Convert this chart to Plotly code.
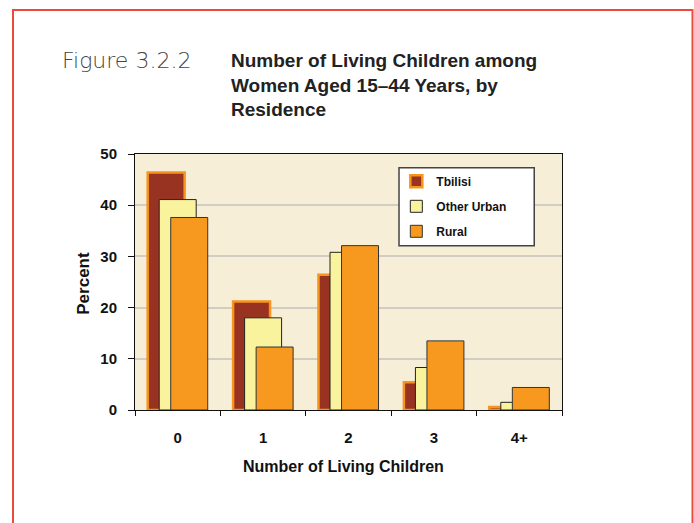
import plotly.graph_objects as go

categories = ["0", "1", "2", "3", "4+"]
series_names = ["Tbilisi", "Other Urban", "Rural"]
tbilisi = [46.4, 21.2, 26.4, 5.4, 0.6]
other_urban = [41.1, 18.0, 30.8, 8.3, 1.5]
rural = [37.6, 12.3, 32.1, 13.5, 4.4]
y_ticks = [0, 10, 20, 30, 40, 50]

fills = ["#983321", "#FAF39E", "#F7991F"]
lines = ["#F7941D", "#222222", "#333333"]
line_w = [2.5, 1, 1]
bar_w = 0.433
offsets = [-0.3515, -0.2165, -0.0815]

fig = go.Figure()
for i, (name, vals) in enumerate(zip(series_names, [tbilisi, other_urban, rural])):
    fig.add_trace(go.Bar(
        x=categories, y=vals, name=name,
        width=bar_w, offset=offsets[i],
        marker=dict(color=fills[i], line=dict(color=lines[i], width=line_w[i])),
        legendgroup=name,
    ))

bold = "Liberation Sans, Arial, sans-serif"

fig.update_layout(
    width=694, height=523,
    margin=dict(l=135, r=132, t=154, b=113),
    paper_bgcolor="white",
    plot_bgcolor="#F6EED6",
    barmode="overlay",
    showlegend=True,
    legend=dict(
        x=0.612, y=0.95, xanchor="left", yanchor="top",
        bgcolor="rgba(0,0,0,0)", borderwidth=0,
        font=dict(family=bold, size=12, color="#111", weight="bold"),
        tracegroupgap=6,
    ),
    xaxis=dict(
        type="category", range=[-0.5, 4.5],
        showline=True, linecolor="#111", linewidth=1, mirror=True,
        ticks="outside", ticklen=5, tickcolor="#111", tickson="boundaries",
        tickfont=dict(family=bold, size=15, color="#111", weight="bold"),
        ticklabelstandoff=14,
        showgrid=False,
    ),
    yaxis=dict(
        range=[0, 50], tickvals=y_ticks,
        showline=True, linecolor="#111", linewidth=1, mirror=True,
        ticks="outside", ticklen=6, tickcolor="#111",
        tickfont=dict(family=bold, size=15, color="#111", weight="bold"),
        ticklabelstandoff=8,
        showgrid=True, gridcolor="#D2CDC2", gridwidth=1.5,
        zeroline=False,
    ),
    shapes=[
        dict(type="rect", xref="paper", yref="paper",
             x0=-0.2857, x1=1.3056, y0=-0.48, y1=1.5625,
             line=dict(color="#EA4B3C", width=2), fillcolor="rgba(0,0,0,0)", layer="below"),
        dict(type="rect", xref="paper", yref="paper",
             x0=0.6183, x1=0.935, y0=0.6418, y1=0.9465,
             line=dict(color="#444", width=1.5), fillcolor="white", layer="above"),
    ],
    annotations=[
        dict(text="Figure 3.2.2", xref="paper", yref="paper",
             x=-0.1756, y=1.366, xanchor="left", yanchor="middle", showarrow=False,
             font=dict(family="DejaVu Sans, sans-serif", size=22, color="#444", weight=200)),
        dict(text="Number of Living Children among<br>Women Aged 15–44 Years, by<br>Residence",
             xref="paper", yref="paper", align="left",
             x=0.2201, y=1.27, xanchor="left", yanchor="middle", showarrow=False,
             font=dict(family=bold, size=19, color="#222", weight="bold")),
        dict(text="Percent", xref="paper", yref="paper", textangle=-90,
             x=-0.1225, y=0.496, xanchor="center", yanchor="middle", showarrow=False,
             font=dict(family=bold, size=17, color="#111", weight="bold")),
        dict(text="Number of Living Children", xref="paper", yref="paper",
             x=0.489, y=-0.2215, xanchor="center", yanchor="middle", showarrow=False,
             font=dict(family=bold, size=16, color="#111", weight="bold")),
    ],
)

fig.write_html("out.html")
